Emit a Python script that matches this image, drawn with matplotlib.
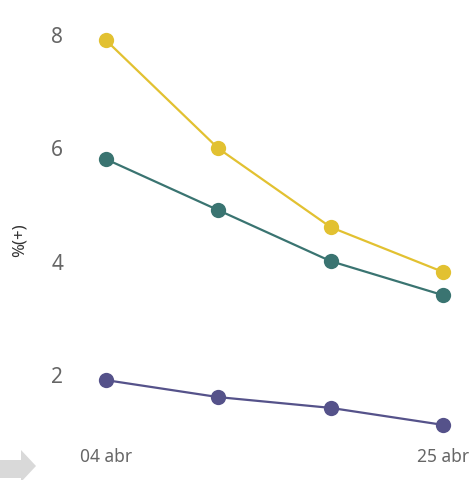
import numpy as np
import matplotlib.pyplot as plt
from matplotlib.patches import Polygon

# Data
dates = ["04 abr", "11 abr", "18 abr", "25 abr"]
tick_labels = ["04 abr", "", "", "25 abr"]
serie_amarilla = [7.91, 6.0, 4.61, 3.82]
serie_verde = [5.81, 4.91, 4.01, 3.41]
serie_morada = [1.91, 1.61, 1.42, 1.12]
y_ticks = [2, 4, 6, 8]

colors = {"amarilla": "#E2C131", "verde": "#3A7471", "morada": "#55528A"}
text_color = "#666666"

plt.rcParams['font.family'] = ['Noto Sans', 'DejaVu Sans']

fig = plt.figure(figsize=(4.76, 4.80), dpi=100)
ax = fig.add_axes([80 / 476, 40 / 480, 396 / 476, 440 / 480])

x = np.arange(len(dates))
for vals, key in [(serie_amarilla, "amarilla"), (serie_verde, "verde"), (serie_morada, "morada")]:
    ax.plot(x, vals, color=colors[key], lw=1.6, marker='o', markersize=11,
            markeredgewidth=0, clip_on=False, zorder=3)

ax.set_xlim(-0.231, 3.294)
ax.set_ylim(0.853, 8.62)
ax.set_xticks(x)
ax.set_xticklabels(tick_labels)
ax.set_yticks(y_ticks)
ax.tick_params(axis='both', length=0, colors=text_color)
ax.tick_params(axis='y', labelsize=15, pad=12)
ax.tick_params(axis='x', labelsize=12.5, pad=6)
for lab in ax.get_xticklabels():
    lab.set_clip_on(False)
for s in ax.spines.values():
    s.set_visible(False)

fig.text(20 / 476, 1 - 240 / 480, "%(+)", rotation=90, ha='center', va='center',
         fontsize=12, color="#333333")

# grey navigation arrow in the lower-left corner
pts = np.array([(0, 460), (21, 460), (21, 450), (36, 466), (21, 482), (21, 478), (0, 478)], float)
pts[:, 0] /= 476
pts[:, 1] = 1 - pts[:, 1] / 480
arrow = Polygon(pts, closed=True, facecolor="#D9D9D9", edgecolor='none', transform=fig.transFigure)
fig.patches.append(arrow)

fig.savefig("out.png", dpi=100)
